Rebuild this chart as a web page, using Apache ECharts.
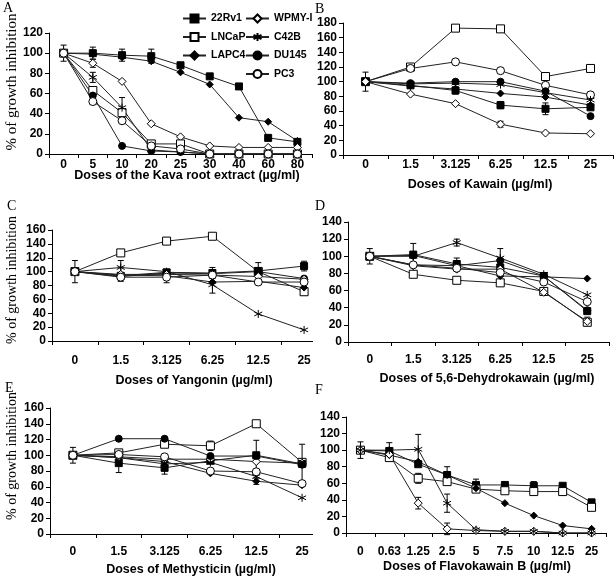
<!DOCTYPE html>
<html><head><meta charset="utf-8">
<script src="https://cdn.jsdelivr.net/npm/echarts@6/dist/echarts.min.js"></script>
<style>html,body{margin:0;padding:0;background:#fff}#c{width:616px;height:576px}</style>
</head><body><div id="c"></div>
<script>
// ---- categories ----
const catsA = ['0','5','10','20','25','30','40','60','80'];
const catsK = ['0','1.5','3.125','6.25','12.5','25'];
const catsF = ['0','0.63','1.25','2.5','5','7.5','10','12.5','25'];

// ---- Panel A: Kava root extract ----
const A_22Rv1 = [100,100,98,97,88,77,67,16,12];
const A_LNCaP = [100,63,41,10,10,0,0,0,0];
const A_LAPC4 = [100,99,96,92,81,69,36,32,13];
const A_WPMY  = [100,90,72,30,17,8,6.5,6.5,6.5];
const A_C42B  = [100,76,46,4,2,0,0,0,0];
const A_DU145 = [100,58,8,3,2,0,0,0,0];
const A_PC3   = [100,52,33,8,5,0,0,0,0];
// ---- Panel B: Kawain ----
const B_22Rv1 = [100,95,88,68,63,65];
const B_LNCaP = [100,120,173,172,107,118];
const B_LAPC4 = [100,94,90,84,79,68];
const B_WPMY  = [100,83,70,42,30,29];
const B_C42B  = [100,97,98,96,85,75];
const B_DU145 = [100,98,100,100,87,53];
const B_PC3   = [100,118,127,115,95,82];
// ---- Panel C: Yangonin ----
const C_22Rv1 = [100,94,99,98,101,108];
const C_LNCaP = [100,127,144,151,100,71];
const C_LAPC4 = [100,95,94,85,86,77];
const C_WPMY  = [100,96,96,95,93,89];
const C_C42B  = [100,106,100,81,39,16];
const C_DU145 = [100,93,98,97,100,90];
const C_PC3   = [100,92,92,95,85,85];
// ---- Panel D: 5,6-Dehydrokawain ----
const D_22Rv1 = [100,102,91,87,77,36];
const D_LNCaP = [100,79,72,69,59,23];
const D_LAPC4 = [100,90,89,77,76,74];
const D_WPMY  = [100,89,85,85,58,24];
const D_C42B  = [100,100,116,98,79,55];
const D_DU145 = [100,101,89,95,77,37];
const D_PC3   = [100,90,86,81,70,47];
// ---- Panel E: Methysticin ----
const E_22Rv1 = [100,90,84,93,100,89];
const E_LNCaP = [100,103,114,112,140,91];
const E_LAPC4 = [100,97,92,77,67,62];
const E_WPMY  = [100,98,95,95,92,90];
const E_C42B  = [100,97,89,91,73,46];
const E_DU145 = [100,121,121,99,99,88];
const E_PC3   = [100,101,98,80,79,64];
// ---- Panel F: Flavokawain B ----
const F_22Rv1 = [100,99,83,70,58,58,57,57,37];
const F_LNCaP = [100,91,66,62,53,51,50,50,31];
const F_LAPC4 = [100,94,86,70,54,36,21,9,5];
const F_WPMY  = [100,95,36,5,3,2,2,0,0];
const F_C42B  = [100,100,101,36,4,2,2,0,0];

// ---- error bars: [category index, mean, +/- error] ----
const A_err = [[0,100,8],[1,100,6],[2,98,6],[3,97,7],[1,90,4],[1,76,5],[2,46,10]];
const B_err = [[0,100,13],[1,120,3],[2,88,5],[3,68,5],[3,42,4],[4,63,8]];
const C_err = [[0,100,16],[1,106,10],[1,92,6],[2,92,8],[3,98,8],[3,81,12],[4,101,12],[5,108,7]];
const D_err = [[0,100,9],[1,102,13],[2,116,4],[2,91,7],[3,98,11],[4,77,4],[5,24,5]];
const E_err = [[0,100,10],[1,90,12],[2,84,8],[3,112,6],[4,99,20],[4,67,4],[5,90,24]];
const F_err = [[0,100,10],[1,99,10],[2,101,18],[2,66,6],[2,36,7],[3,70,10],[3,36,11],[3,5,7],[4,58,7],[6,57,5]];

const yMax = [120,180,160,140,160,140];
const axisNames = ['Doses of the Kava root extract (\u00b5g/ml)','Doses of Kawain (\u00b5g/ml)','Doses of Yangonin (\u00b5g/ml)','Doses of 5,6-Dehydrokawain (\u00b5g/ml)','Doses of Methysticin (\u00b5g/ml)','Doses of Flavokawain B (\u00b5g/ml)'];
const panelLetters = ['A','B','C','D','E','F'];
const yName = '% of growth inhibition';

// ---- layout / styles ----
const SANS = '"Liberation Sans", Arial, sans-serif';
const SERIF = '"Liberation Serif", "Times New Roman", serif';
const grids = [
  {left:49, top:33, width:263, height:121},
  {left:343, top:23, width:270, height:132},
  {left:52, top:230, width:275, height:111},
  {left:348, top:222, width:261, height:120},
  {left:50, top:408, width:275, height:126},
  {left:346, top:417, width:260, height:116}
];
const labelMargin = [5,4,14,12,12,13];
const STAR = 'path://M5,0L5,10M0.7,2.5L9.3,7.5M0.7,7.5L9.3,2.5';
const STY = {
  '22Rv1': {symbol:'rect', size:7, fill:'#000'},
  'LNCaP': {symbol:'rect', size:8, fill:'#fff'},
  'LAPC4': {symbol:'diamond', size:7, fill:'#000'},
  'WPMY-I': {symbol:'diamond', size:8, fill:'#fff'},
  'C42B': {symbol:STAR, size:8, fill:'rgba(0,0,0,0)'},
  'DU145': {symbol:'circle', size:7, fill:'#000'},
  'PC3': {symbol:'circle', size:8, fill:'#fff'}
};
function mk(name, data, idx){
  const s = STY[name];
  return {type:'line', name, data, xAxisIndex:idx, yAxisIndex:idx, z:3,
    symbol:s.symbol, symbolSize:s.size, showSymbol:true, showAllSymbol:true,
    lineStyle:{color:'#222', width:1},
    itemStyle:{color:s.fill, borderColor:'#000', borderWidth:1},
    emphasis:{disabled:true}, animation:false};
}
function mkErr(data, idx){
  return {type:'custom', xAxisIndex:idx, yAxisIndex:idx, z:2, data, silent:true, animation:false,
    renderItem:(params, api)=>{
      const x = api.value(0), m = api.value(1), e = api.value(2);
      const hi = api.coord([x, m+e]), lo = api.coord([x, m-e]);
      const w = 3, st = {stroke:'#000', lineWidth:1};
      return {type:'group', children:[
        {type:'line', shape:{x1:hi[0], y1:hi[1], x2:lo[0], y2:lo[1]}, style:st},
        {type:'line', shape:{x1:hi[0]-w, y1:hi[1], x2:hi[0]+w, y2:hi[1]}, style:st},
        {type:'line', shape:{x1:lo[0]-w, y1:lo[1], x2:lo[0]+w, y2:lo[1]}, style:st}
      ]};
    }};
}
const panels = [
  [['22Rv1',A_22Rv1],['LAPC4',A_LAPC4],['WPMY-I',A_WPMY],['LNCaP',A_LNCaP],['C42B',A_C42B],['DU145',A_DU145],['PC3',A_PC3]],
  [['LNCaP',B_LNCaP],['PC3',B_PC3],['DU145',B_DU145],['C42B',B_C42B],['LAPC4',B_LAPC4],['22Rv1',B_22Rv1],['WPMY-I',B_WPMY]],
  [['LNCaP',C_LNCaP],['C42B',C_C42B],['22Rv1',C_22Rv1],['DU145',C_DU145],['LAPC4',C_LAPC4],['WPMY-I',C_WPMY],['PC3',C_PC3]],
  [['LNCaP',D_LNCaP],['C42B',D_C42B],['22Rv1',D_22Rv1],['LAPC4',D_LAPC4],['WPMY-I',D_WPMY],['DU145',D_DU145],['PC3',D_PC3]],
  [['LNCaP',E_LNCaP],['22Rv1',E_22Rv1],['LAPC4',E_LAPC4],['WPMY-I',E_WPMY],['C42B',E_C42B],['DU145',E_DU145],['PC3',E_PC3]],
  [['22Rv1',F_22Rv1],['LNCaP',F_LNCaP],['LAPC4',F_LAPC4],['WPMY-I',F_WPMY],['C42B',F_C42B]]
];
const errs = [A_err,B_err,C_err,D_err,E_err,F_err];
const cats = [catsA,catsK,catsK,catsK,catsK,catsF];

const series = [];
errs.forEach((e,i)=>series.push(mkErr(e,i)));
panels.forEach((p,i)=>p.forEach(([n,d])=>series.push(mk(n,d,i))));

const xAxis = cats.map((c,i)=>({type:'category', gridIndex:i, data:c, boundaryGap:true,
  axisLine:{lineStyle:{color:'#000', width:1}},
  axisTick:{show:true, length:4, lineStyle:{color:'#000'}, interval:0},
  axisLabel:{interval:0, color:'#000', fontFamily:SANS, fontWeight:'bold', fontSize:12, margin:labelMargin[i]},
  splitLine:{show:false}}));
const yAxis = yMax.map((m,i)=>({type:'value', gridIndex:i, min:0, max:m, interval:20,
  axisLine:{show:true, lineStyle:{color:'#000', width:1}},
  axisTick:{show:true, length:4, lineStyle:{color:'#000'}},
  axisLabel:{color:'#000', fontFamily:SANS, fontWeight:'bold', fontSize:12, margin:6},
  splitLine:{show:false}}));

const nameCenters = [[187,176],[480,185],[194,381],[487,379],[191,570],[477,567]];
const letterPos = [[3,1],[315,2],[7,199],[315,199],[5,381],[315,383]];
const yNamePos = [[12,82,15],[12,280,14],[12,456,14]];
const graphic = [];
panelLetters.forEach((L,i)=>graphic.push({type:'text', x:letterPos[i][0], y:letterPos[i][1],
  style:{text:L, fontFamily:SERIF, fontSize:14, fill:'#000'}}));
axisNames.forEach((t,i)=>graphic.push({type:'text', x:nameCenters[i][0], y:nameCenters[i][1],
  style:{text:t, fontFamily:SANS, fontWeight:'bold', fontSize:12.5, fill:'#000', align:'center', verticalAlign:'middle'}}));
yNamePos.forEach(p=>graphic.push({type:'text', x:p[0], y:p[1], rotation:Math.PI/2,
  style:{text:yName, fontFamily:SERIF, fontSize:p[2], fill:'#000', align:'center', verticalAlign:'middle'}}));
// cut-off right ends of the C and E x axes (as in the original figure)
graphic.push({type:'rect', z:100, shape:{x:313, y:338, width:20, height:10}, style:{fill:'#fff'}});
graphic.push({type:'rect', z:100, shape:{x:313, y:531, width:20, height:10}, style:{fill:'#fff'}});

const legendText = {color:'#000', fontFamily:SANS, fontWeight:'bold', fontSize:10.5};
const option = {
  animation:false,
  backgroundColor:'#fff',
  grid: grids,
  xAxis, yAxis, series, graphic,
  legend:[
    {data:['22Rv1','LNCaP','LAPC4'], orient:'vertical', left:177, top:8, itemWidth:23, itemHeight:10, itemGap:7.5, textStyle:legendText, selectedMode:false},
    {data:['WPMY-I','C42B','DU145','PC3'], orient:'vertical', left:240, top:8, itemWidth:23, itemHeight:10, itemGap:7.5, textStyle:legendText, selectedMode:false}
  ]
};
const chart = echarts.init(document.getElementById('c'), null, {renderer:'canvas'});
chart.setOption(option);
</script></body></html>
